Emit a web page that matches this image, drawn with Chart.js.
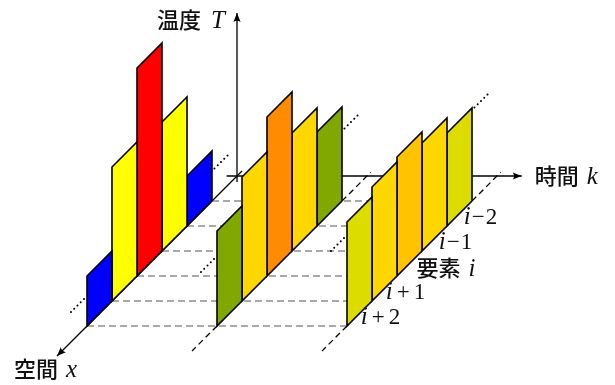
<!DOCTYPE html>
<html>
<head>
<meta charset="utf-8">
<script src="https://cdn.jsdelivr.net/npm/chart.js@4/dist/chart.umd.min.js"></script>
<style>
  html, body { margin: 0; padding: 0; background: #fff; }
  canvas { display: block; }
</style>
</head>
<body>
<canvas id="c" width="615" height="385"></canvas>
<script>
// Elements along the space axis, from the back (i−2) to the front (i+2)
const ELEMENTS = ['i−2', 'i−1', 'i', 'i+1', 'i+2'];
const ELEMENT_TITLE = '要素';
// Time steps along the time axis
const TIME_STEPS = [0, 1, 2];
// Temperature of each element (back to front) at each time step
const TEMP_K0 = [5.0, 12.9, 20.8, 13.4, 5.0];
const TEMP_K1 = [9.4, 11.8, 15.9, 12.4, 9.5];
const TEMP_K2 = [9.3, 10.8, 11.9, 11.4, 10.4];
// Temperature level of the elements beyond the drawn ones, per time step
const TEMP_OUTSIDE = [3.0, 7.0, 9.1];
// Axis titles
const AXIS_T = ['温度', 'T'];
const AXIS_K = ['時間', 'k'];
const AXIS_X = ['空間', 'x'];

// Bar colours per time step
const COLORS_K0 = ['#0000ff', '#ffff00', '#ff0000', '#ffff00', '#0000ff'];
const COLORS_K1 = ['#80a800', '#ffd700', '#ff8c00', '#ffd700', '#80a800'];
const COLORS_K2 = ['#dcdc00', '#ffd700', '#ffc300', '#ffd700', '#dcdc00'];

const TEMPS = [TEMP_K0, TEMP_K1, TEMP_K2];
const COLORS = [COLORS_K0, COLORS_K1, COLORS_K2];

// Oblique projection: time to the right, space toward the viewer, temperature up
const TIME_GAP = 130, CELL = 25, TEMP_UNIT = 10;
function proj(k, e, t) {
  return { x: k * TIME_GAP - e * CELL, y: t * TEMP_UNIT - e * CELL };
}

const datasets = []; // collected in paint order, back to front
function path(points, style) {
  datasets.push(Object.assign({
    data: points,
    showLine: true,
    pointRadius: 0,
    pointHoverRadius: 0,
    fill: false,
    tension: 0,
    borderColor: '#000',
    borderWidth: 1.2,
    backgroundColor: 'transparent'
  }, style));
}

const lastK = TIME_STEPS[TIME_STEPS.length - 1];
const nCells = ELEMENTS.length;

// Dashed guides joining element boundaries across time
for (let e = 1; e <= nCells + 1; e++) {
  path([proj(0, e, 0), proj(lastK, e, 0)], { borderColor: '#555', borderWidth: 1.1, borderDash: [7, 4] });
}

// Axes
path([proj(-0.08, 0, 0), proj(2.19, 0, 0)], { borderWidth: 1.3, arrow: true });
path([proj(0, 0, -0.6), proj(0, 0, 16.3)], { borderWidth: 1.3, arrow: true });
path([proj(0, -0.2, 0), proj(0, 7.2, 0)], { borderWidth: 1.3, arrow: true });

// Space lines of the later time steps, dashed outside the drawn elements
TIME_STEPS.forEach(k => {
  if (k === 0) return;
  path([proj(k, nCells + 1, 0), proj(k, nCells + 2, 0)], { borderWidth: 1.3, borderDash: [6, 4] });
  path([proj(k, 1, 0), proj(k, -0.15, 0)], { borderWidth: 1.3, borderDash: [6, 4] });
});

// Dotted continuation beyond the first and last drawn element
TIME_STEPS.forEach((k, ki) => {
  const t = TEMP_OUTSIDE[ki];
  const dotted = { borderWidth: 2, borderDash: [0.01, 4.6], borderCapStyle: 'round' };
  path([proj(k, nCells + 1.12, t), proj(k, nCells + 1.7, t)], dotted);
  path([proj(k, 0.38, t), proj(k, 0.95, t)], dotted);
});

// Temperature bars, back element first
TIME_STEPS.forEach((k, ki) => {
  TEMPS[ki].forEach((t, j) => {
    const e0 = j + 1, e1 = j + 2;
    path([proj(k, e0, 0), proj(k, e1, 0), proj(k, e1, t), proj(k, e0, t), proj(k, e0, 0)], {
      polygon: true,
      backgroundColor: COLORS[ki][j],
      borderWidth: 1.6,
      borderJoinStyle: 'miter'
    });
  });
});

// Fill each closed bar outline just before its border is stroked
const polygonFill = {
  id: 'polygonFill',
  beforeDatasetDraw(chart, args) {
    const ds = chart.data.datasets[args.index];
    if (!ds.polygon) return;
    const pts = args.meta.data;
    const ctx = chart.ctx;
    ctx.save();
    ctx.beginPath();
    pts.forEach((p, i) => (i ? ctx.lineTo(p.x, p.y) : ctx.moveTo(p.x, p.y)));
    ctx.closePath();
    ctx.fillStyle = ds.backgroundColor;
    ctx.fill();
    ctx.restore();
  }
};

// Filled arrow heads at the end of each axis
const arrowHeads = {
  id: 'arrowHeads',
  afterDatasetsDraw(chart) {
    const ctx = chart.ctx;
    chart.data.datasets.forEach((ds, i) => {
      if (!ds.arrow) return;
      const pts = chart.getDatasetMeta(i).data;
      const a = pts[pts.length - 2], b = pts[pts.length - 1];
      const ang = Math.atan2(b.y - a.y, b.x - a.x);
      const len = 9, half = 3.6;
      ctx.save();
      ctx.translate(b.x, b.y);
      ctx.rotate(ang);
      ctx.beginPath();
      ctx.moveTo(0, 0);
      ctx.lineTo(-len, -half);
      ctx.quadraticCurveTo(-len * 0.7, 0, -len, half);
      ctx.closePath();
      ctx.fillStyle = '#000';
      ctx.fill();
      ctx.restore();
    });
  }
};

const CJK_FONT = '500 22px "Noto Sans CJK JP", "Noto Sans CJK SC", sans-serif';
const MATH_IT = 'italic 25px "Liberation Serif", "DejaVu Serif", serif';
const MATH_UP = '23px "Liberation Serif", "DejaVu Serif", serif';

function measure(ctx, pieces) {
  let total = 0;
  pieces.forEach(p => { ctx.font = p.font; p.w = ctx.measureText(p.text).width + (p.gap || 0); total += p.w; });
  return total;
}

function drawPieces(ctx, pieces, x, y, align) {
  const total = measure(ctx, pieces);
  let cx = align === 'right' ? x - total : align === 'center' ? x - total / 2 : x;
  pieces.forEach(p => {
    ctx.font = p.font;
    ctx.fillText(p.text, cx, y);
    cx += p.w;
  });
}

// Italic index letter, then operator and offset set upright
function mathPieces(label) {
  if (label.length === 1) return [{ text: label, font: MATH_IT }];
  const op = label[1], rest = label.slice(2);
  const pad = op === '+' ? 4 : 1;
  return [
    { text: label[0], font: MATH_IT, gap: pad },
    { text: op, font: MATH_UP, gap: pad },
    { text: rest, font: MATH_UP }
  ];
}

// Axis titles and element names
const textLabels = {
  id: 'textLabels',
  afterDraw(chart) {
    const ctx = chart.ctx, sx = chart.scales.x, sy = chart.scales.y;
    const px = p => ({ x: sx.getPixelForValue(p.x), y: sy.getPixelForValue(p.y) });
    ctx.save();
    ctx.fillStyle = '#111';
    ctx.textBaseline = 'alphabetic';
    ctx.textAlign = 'left';

    const tTip = px(proj(0, 0, 16.3));
    drawPieces(ctx, [{ text: AXIS_T[0], font: CJK_FONT, gap: 10 }, { text: AXIS_T[1], font: MATH_IT }], tTip.x - 80, tTip.y + 15, 'left');

    const kTip = px(proj(2.19, 0, 0));
    drawPieces(ctx, [{ text: AXIS_K[0], font: CJK_FONT, gap: 8 }, { text: AXIS_K[1], font: MATH_IT }], kTip.x + 13, kTip.y + 8, 'left');

    const xTip = px(proj(0, 7.2, 0));
    drawPieces(ctx, [{ text: AXIS_X[0], font: CJK_FONT, gap: 8 }, { text: AXIS_X[1], font: MATH_IT }], xTip.x - 43, xTip.y + 21, 'left');

    ELEMENTS.forEach((lab, j) => {
      const mid = px(proj(lastK, j + 1.5, 0));
      if (lab === 'i') {
        const pieces = [{ text: ELEMENT_TITLE, font: CJK_FONT, gap: 8 }].concat(mathPieces(lab));
        drawPieces(ctx, pieces, mid.x + 7, mid.y + 12, 'left');
      } else {
        drawPieces(ctx, mathPieces(lab), mid.x + 21, mid.y + 10.5, 'center');
      }
    });
    ctx.restore();
  }
};

new Chart(document.getElementById('c'), {
  type: 'scatter',
  data: { datasets: datasets.slice().reverse() },
  options: {
    responsive: false,
    animation: false,
    devicePixelRatio: 1,
    events: [],
    layout: { padding: 0 },
    scales: {
      x: { type: 'linear', min: -237, max: 378, display: false },
      y: { type: 'linear', min: -209, max: 176, display: false }
    },
    plugins: { legend: { display: false }, tooltip: { enabled: false }, title: { display: false } }
  },
  plugins: [polygonFill, arrowHeads, textLabels]
});
</script>
</body>
</html>
